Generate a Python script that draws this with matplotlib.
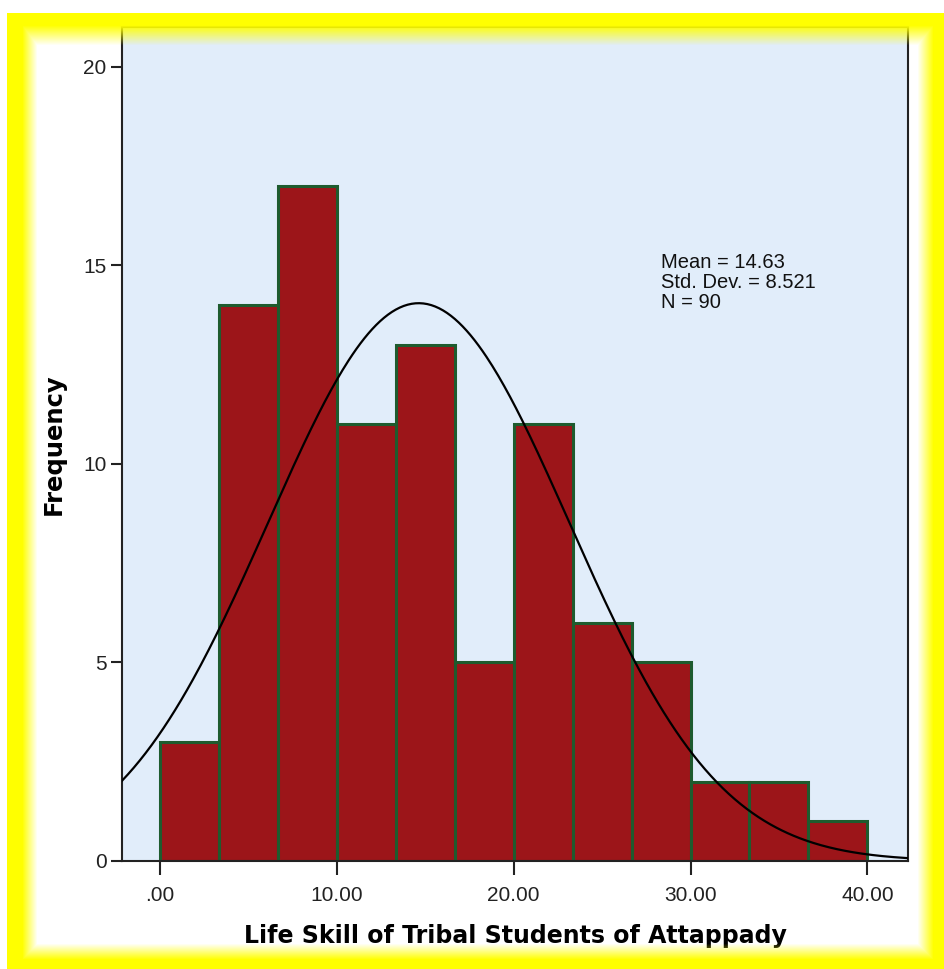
import numpy as np
import matplotlib
matplotlib.use("Agg")
import matplotlib.pyplot as plt

# ---- data ----
bin_edges = [0, 10/3, 20/3, 10, 40/3, 50/3, 20, 70/3, 80/3, 30, 100/3, 110/3, 40]
counts = [3, 14, 17, 11, 13, 5, 11, 6, 5, 2, 2, 1]
mean_val = 14.63
std_val = 8.521
n_val = 90
x_ticks = [0, 10, 20, 30, 40]
x_ticklabels = [".00", "10.00", "20.00", "30.00", "40.00"]
y_ticks = [0, 5, 10, 15, 20]
y_ticklabels = ["0", "5", "10", "15", "20"]

W, H = 945, 969
fig = plt.figure(figsize=(W / 100, H / 100), dpi=100)
fig.patch.set_facecolor("white")

ax = fig.add_axes([122 / W, 1 - 861 / H, (908 - 122) / W, (861 - 27) / H])
ax.set_facecolor("#E1EDFA")

widths = np.diff(bin_edges)
ax.bar(bin_edges[:-1], counts, width=widths, align="edge",
       color="#9C1519", edgecolor="#1E5B2E", linewidth=2.2, zorder=2)

xs = np.linspace(-2.15, 42.3, 400)
bw = widths[0]
ys = n_val * bw * np.exp(-0.5 * ((xs - mean_val) / std_val) ** 2) / (std_val * np.sqrt(2 * np.pi))
ax.plot(xs, ys, color="black", linewidth=1.6, zorder=3)

ax.set_xlim(-2.15, 42.3)
ax.set_ylim(0, 21.0)
ax.set_xticks(x_ticks)
ax.set_xticklabels(x_ticklabels)
ax.set_yticks(y_ticks)
ax.set_yticklabels(y_ticklabels)
for lab in ax.get_xticklabels() + ax.get_yticklabels():
    lab.set_fontfamily("Liberation Sans")
    lab.set_fontsize(15)
    lab.set_color("#222222")
ax.tick_params(axis="x", direction="out", length=10, width=1.5, pad=8, color="#222222")
ax.tick_params(axis="y", direction="out", length=8, width=1.5, pad=3, color="#222222")
for s in ax.spines.values():
    s.set_linewidth(1.5)
    s.set_color("#222222")

ax.set_xlabel("Life Skill of Tribal Students of Attappady", fontsize=17,
              fontweight="bold", family="DejaVu Sans", labelpad=14)
ax.set_ylabel("Frequency", fontsize=17.5, fontweight="bold", family="DejaVu Sans", labelpad=13)

ax.text(0.686, 0.729,
        "Mean = %.2f\nStd. Dev. = %.3f\nN = %d" % (mean_val, std_val, n_val),
        transform=ax.transAxes, fontsize=14.5, family="Liberation Sans",
        color="#111111", va="top", ha="left", linespacing=1.06)

# ---- yellow glow frame overlay ----
yy, xx = np.mgrid[0:H, 0:W].astype(float)
def side_alpha(d, solid, fade):
    return np.clip(1 - (d - solid) / fade, 0, 1)
a = np.maximum.reduce([
    side_alpha(xx - 7, 15, 15),
    side_alpha(yy - 13, 12, 20),
    side_alpha(W - xx, 12, 16),
    side_alpha(H - yy, 10, 16),
])
rgba = np.zeros((H, W, 4))
rgba[..., 0] = 1.0
rgba[..., 1] = 1.0
rgba[..., 2] = 0.0
rgba[..., 3] = a
outside = (xx < 7) | (yy < 13)
rgba[outside] = [1, 1, 1, 1]
ov = fig.add_axes([0, 0, 1, 1], zorder=10)
ov.imshow(rgba, extent=[0, 1, 0, 1], aspect="auto", interpolation="bilinear")
ov.set_xlim(0, 1)
ov.set_ylim(0, 1)
ov.axis("off")

fig.savefig("out.png", dpi=100)
